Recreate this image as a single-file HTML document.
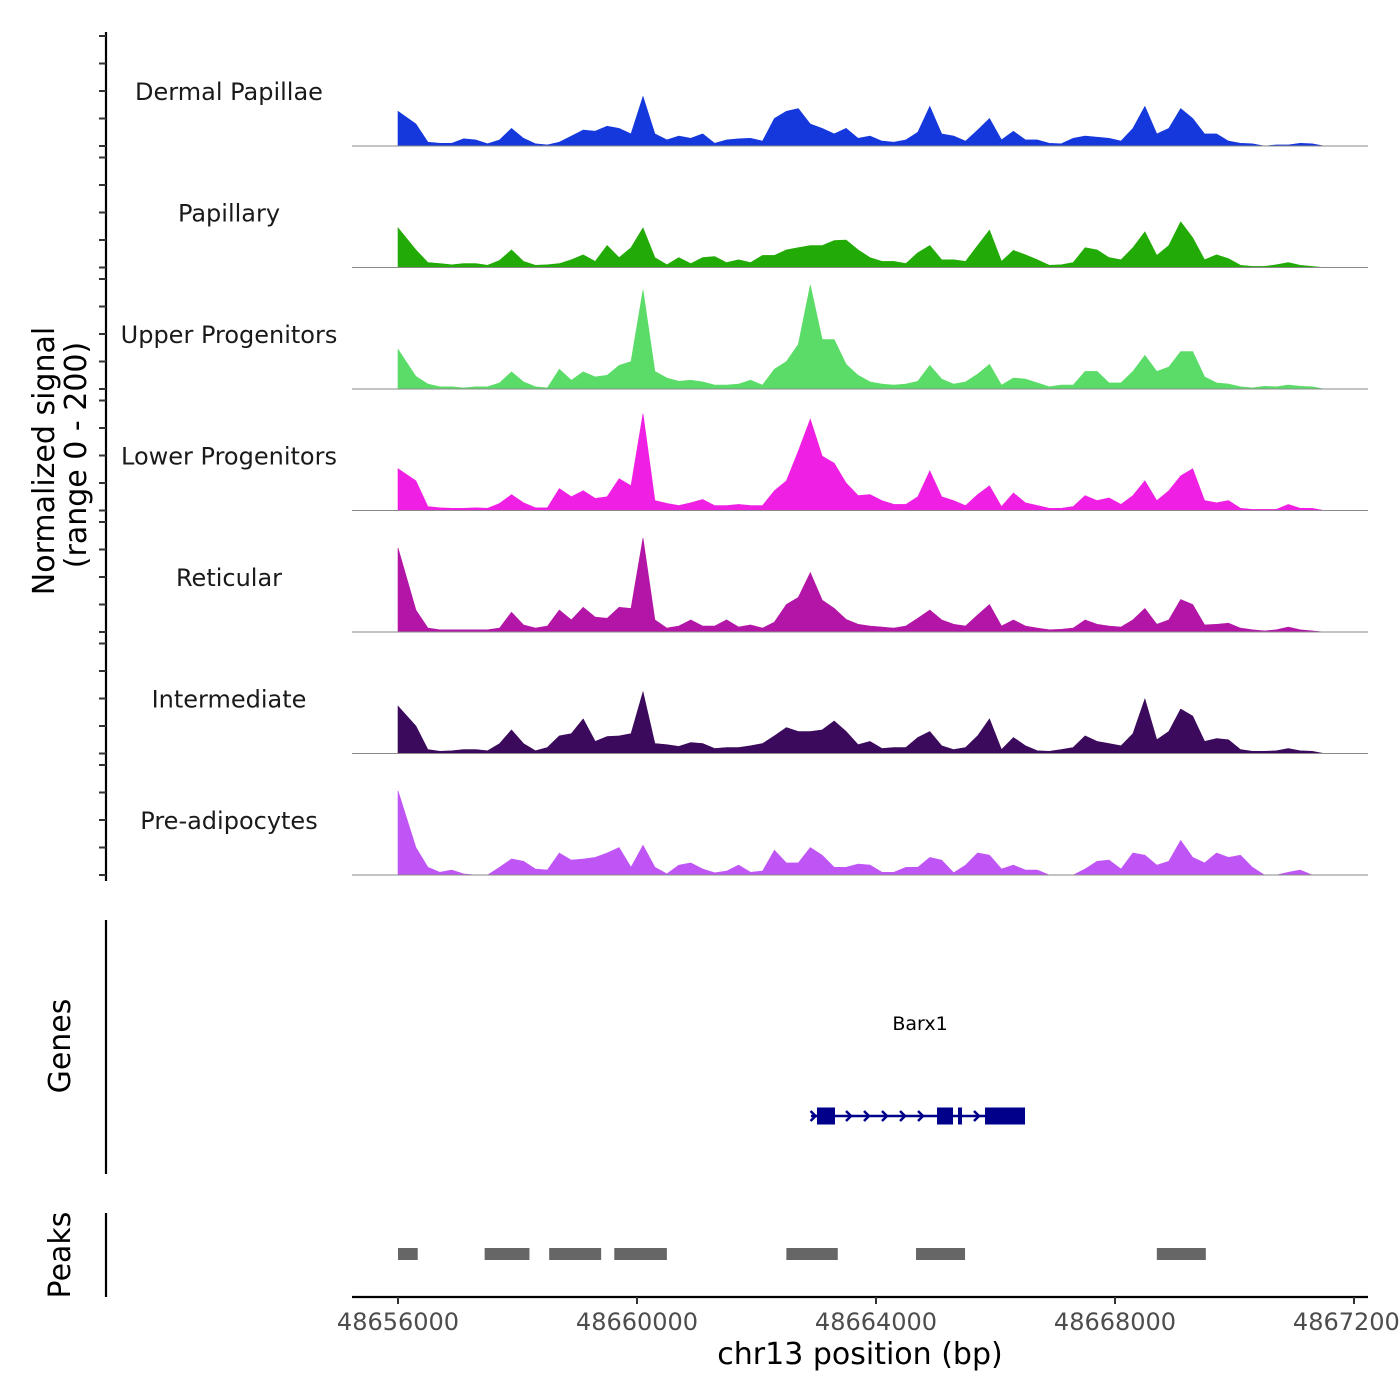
<!DOCTYPE html>
<html><head><meta charset="utf-8"><style>
html,body{margin:0;padding:0;background:#fff}
svg{display:block;font-family:"DejaVu Sans","Liberation Sans",sans-serif}
</style></head><body>
<svg id="chart" width="1400" height="1400" viewBox="0 0 1400 1400" xmlns="http://www.w3.org/2000/svg">
<g id="tracks"></g>
<g id="leftaxis"></g>
<text transform="translate(54,461) rotate(-90)" text-anchor="middle" font-size="30" fill="#000">Normalized signal</text>
<text transform="translate(86,455) rotate(-90)" text-anchor="middle" font-size="30" fill="#000">(range 0 - 200)</text>
<line x1="106" y1="920" x2="106" y2="1174" stroke="#000" stroke-width="2.2"/>
<text transform="translate(70,1046) rotate(-90)" text-anchor="middle" font-size="30" fill="#000">Genes</text>
<line x1="106" y1="1213" x2="106" y2="1297" stroke="#000" stroke-width="2.2"/>
<text transform="translate(70,1255) rotate(-90)" text-anchor="middle" font-size="30" fill="#000">Peaks</text>
<g id="genes"></g>
<g id="peaks"></g>
<g id="xaxis"></g>
<text x="860" y="1364" text-anchor="middle" font-size="30" fill="#000">chr13 position (bp)</text>
</svg>
<script>
const trackNames = ["Dermal Papillae","Papillary","Upper Progenitors","Lower Progenitors","Reticular","Intermediate","Pre-adipocytes"];
const trackColors = ["#1538dd","#22ab06","#5bdc68","#f01fe4","#b316a6","#3b0a5c","#c055f5"];
const binStart = 48656000;
const binSize = 200;
const dermalPapillae = [63,40,7,5,5,13,11,4,11,32,14,4,2,7,18,29,27,36,32,22,90,22,11,18,14,22,5,11,13,14,9,50,63,68,40,32,22,32,14,18,9,7,11,25,72,22,18,9,29,50,11,27,11,11,5,4,14,18,16,14,9,32,72,22,32,68,50,22,22,9,5,4,0,2,2,5,4,0];
const papillary = [72,32,9,7,5,7,7,4,13,32,11,4,5,7,14,23,11,40,18,36,72,18,5,18,7,18,20,9,14,9,22,22,32,36,40,40,49,50,32,18,11,11,7,27,40,14,14,11,40,68,11,31,23,14,4,5,9,36,32,18,14,36,65,22,40,83,54,14,23,16,4,2,2,5,9,4,2,0];
const upperProgenitors = [72,23,9,4,4,2,4,4,11,31,13,4,2,36,16,31,22,25,43,50,180,32,20,14,16,13,7,7,9,16,7,36,50,81,189,90,90,45,25,13,9,7,9,14,43,18,9,13,27,45,7,20,18,11,4,7,7,32,32,11,11,32,61,32,40,68,68,22,11,9,4,2,5,4,7,5,4,0];
const lowerProgenitors = [76,54,7,5,4,4,5,4,13,29,14,5,5,40,25,36,22,25,58,45,176,18,13,9,14,20,9,9,11,9,9,36,54,108,166,99,86,50,27,29,18,11,11,25,72,25,18,9,29,45,7,32,14,9,4,4,7,27,18,23,11,27,54,18,36,63,76,18,14,18,4,2,2,2,11,4,4,0];
const reticular = [153,40,7,4,4,4,4,4,7,36,13,7,11,40,22,45,27,25,45,43,171,22,7,11,22,11,11,22,9,13,7,18,50,63,108,58,43,23,14,11,9,7,11,25,40,22,14,11,31,50,11,22,11,7,4,5,7,22,14,11,9,22,43,14,22,59,50,13,14,16,7,4,2,4,9,4,2,0];
const intermediate = [86,50,7,4,5,7,7,5,18,43,18,5,11,32,36,63,22,31,32,36,112,18,16,13,20,18,9,11,11,14,18,32,47,40,40,43,59,40,16,22,9,11,11,29,40,14,7,11,32,63,7,29,14,5,4,7,11,32,22,18,14,36,99,25,40,81,68,22,27,25,7,4,4,5,9,5,4,0];
const preAdipocytes = [153,50,14,5,9,2,0,0,14,29,25,11,9,40,27,29,32,40,50,14,54,14,2,18,22,11,4,7,18,5,7,45,22,22,50,36,14,14,20,18,5,5,14,14,32,27,4,18,40,36,11,18,9,9,0,0,0,11,25,27,11,40,36,18,25,63,32,22,40,32,36,14,0,0,5,9,0,0];
const seriesList = [dermalPapillae,papillary,upperProgenitors,lowerProgenitors,reticular,intermediate,preAdipocytes];
const xTicks = [48656000,48660000,48664000,48668000,48672000];
const peakStarts = [48656000,48657450,48658530,48659620,48662500,48664670,48668700];
const peakEnds = [48656330,48658200,48659400,48660500,48663360,48665490,48669520];
const geneName = "Barx1";
const geneStart = 48662912;
const geneEnd = 48666494;
const exonStarts = [48663012,48665021,48665372,48665824];
const exonEnds = [48663314,48665289,48665439,48666494];
const arrowPos = [48663565,48663866,48664167,48664469,48664770,48665707];

const NS="http://www.w3.org/2000/svg";
function mk(tag,attrs,parent){const e=document.createElementNS(NS,tag);for(const k in attrs)e.setAttribute(k,attrs[k]);parent.appendChild(e);return e;}
function xScale(p){return 398+(p-48656000)*239/4000;}
const trackH=121.5, firstBase=146, yMax=200, yPx=110;
function yScale(v,base){return base - v/yMax*yPx;}

const tracks=document.getElementById('tracks');
const la=document.getElementById('leftaxis');
mk('line',{x1:106,y1:32,x2:106,y2:881,stroke:'#000','stroke-width':2.2},la);
seriesList.forEach((vals,t)=>{
  const base=firstBase+t*trackH;
  const g=mk('g',{},tracks);
  
  
  let d='M'+xScale(binStart).toFixed(1)+','+base;
  vals.forEach((v,i)=>{
    const p=i===0?binStart:binStart+binSize*i+binSize/2;
    d+=' L'+xScale(p).toFixed(1)+','+yScale(v,base).toFixed(1);
  });
  d+=' L'+xScale(binStart+binSize*vals.length).toFixed(1)+','+base+' Z';
  const area=mk('path',{d:d,fill:trackColors[t],stroke:trackColors[t],'stroke-width':0.6},g);
  
  
  const bl=mk('line',{x1:352,y1:base,x2:1368,y2:base,stroke:'#8a8a8a','stroke-width':1},g);
  
  
  const lab=mk('text',{x:229,y:base-46,'text-anchor':'middle','font-size':24,fill:'#1a1a1a'},g);
  lab.textContent=trackNames[t];
  
  
  [0,50,100,150,200].forEach(v=>{
    const y=yScale(v,base);
    const tk=mk('line',{x1:99,y1:y,x2:106,y2:y,stroke:'#333','stroke-width':2},la);
    
    
  });
});

const gg=document.getElementById('genes');
const gy=1116;
let gl=mk('line',{x1:xScale(geneStart),y1:gy,x2:xScale(geneEnd),y2:gy,stroke:'#00008b','stroke-width':2.5},gg);


arrowPos.concat([geneStart+60]).forEach(p=>{
  const x=xScale(p);
  const a=mk('path',{d:`M${x-4},${gy-5} L${x+1},${gy} L${x-4},${gy+5}`,fill:'none',stroke:'#00008b','stroke-width':2.5},gg);
  
  
});
exonStarts.forEach((s,i)=>{
  const r=mk('rect',{x:xScale(s),y:gy-8.5,width:xScale(exonEnds[i])-xScale(s),height:17,fill:'#00008b'},gg);
  
  
});
const gt=mk('text',{x:920,y:1030,'text-anchor':'middle','font-size':19,fill:'#000'},gg);
gt.textContent=geneName;



const pg=document.getElementById('peaks');
peakStarts.forEach((s,i)=>{
  const r=mk('rect',{x:xScale(s),y:1248,width:xScale(peakEnds[i])-xScale(s),height:12,fill:'#666'},pg);
  
  
});

const xa=document.getElementById('xaxis');
mk('line',{x1:352,y1:1297,x2:1368,y2:1297,stroke:'#000','stroke-width':2.2},xa);
xTicks.forEach(p=>{
  const x=xScale(p);
  const tk=mk('line',{x1:x,y1:1297,x2:x,y2:1304,stroke:'#333','stroke-width':2},xa);
  
  
  const tl=mk('text',{x:x,y:1330,'text-anchor':'middle','font-size':24,fill:'#4d4d4d'},xa);
  tl.textContent=String(p);
  
  
});
</script>
</body></html>
